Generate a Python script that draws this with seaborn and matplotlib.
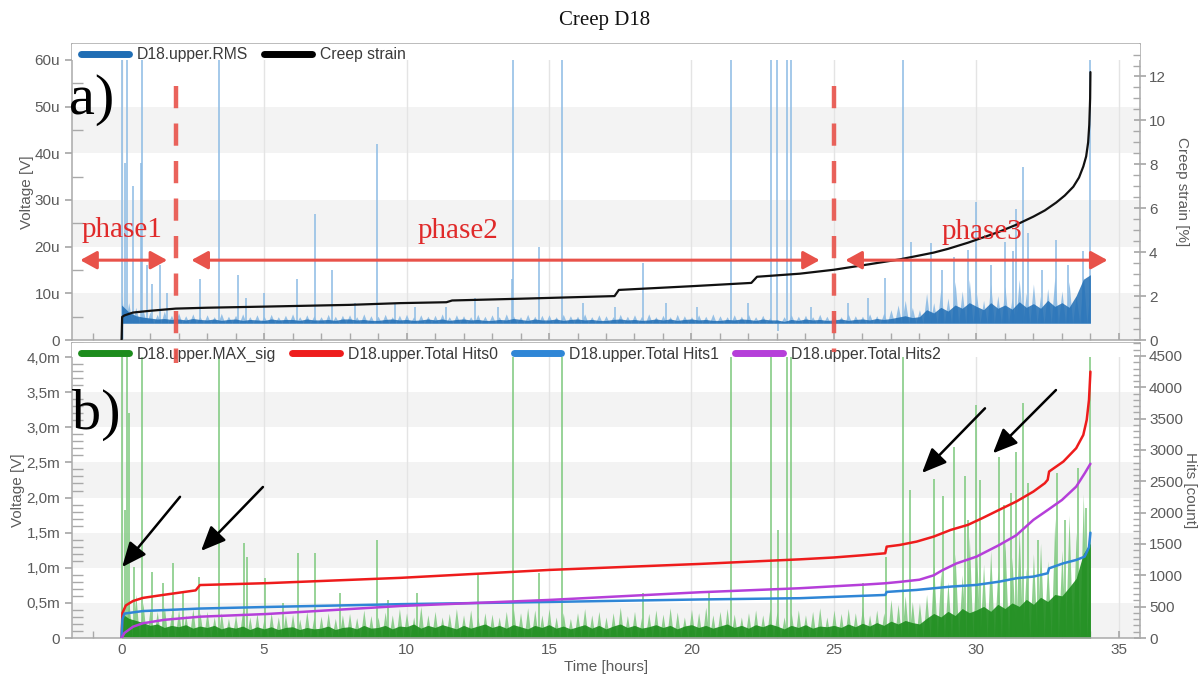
import numpy as np
import pandas as pd
import matplotlib
matplotlib.use("Agg")
import matplotlib.pyplot as plt
import seaborn as sns
from matplotlib.lines import Line2D
from matplotlib.patches import Rectangle, FancyArrowPatch
from matplotlib.ticker import MultipleLocator, FuncFormatter
import matplotlib.transforms as mtransforms

# ---------------------------------------------------------------- data
# regular time grid (hours) on which the dense AE envelopes are sampled
GRID_STEP = 0.25
grid_t = np.arange(0.0, 34.0 + GRID_STEP / 2, GRID_STEP)

# creep strain [%]
creep_t = [0.0, 0.02, 0.1, 0.4, 1.0, 1.9, 3.0, 5.0, 8.0, 9.8, 11.4, 11.6, 14.0,
           17.3, 17.45, 20.0, 22.1, 22.3, 23.8, 25.0, 26.0, 27.3, 28.0, 28.5, 29.0,
           29.7, 30.3, 30.8, 31.4, 32.0, 32.4, 32.8, 33.1, 33.4, 33.6, 33.75, 33.85,
           33.92, 33.96, 33.99, 34.0]
creep_pct = [0.0, 1.05, 1.12, 1.25, 1.33, 1.43, 1.47, 1.52, 1.60, 1.68, 1.72, 1.80, 1.88,
             2.00, 2.28, 2.45, 2.60, 2.88, 3.02, 3.20, 3.40, 3.67, 3.85, 3.98, 4.15,
             4.43, 4.70, 4.93, 5.25, 5.62, 5.90, 6.26, 6.58, 6.98, 7.40, 7.90, 8.36,
             9.00, 9.80, 11.0, 12.2]

# RMS floor level and envelopes [uV]
rms_floor = 3.6
rms_dense = [
    7.5, 6.0, 5.2, 4.9,   4.7, 4.5, 4.6, 4.4,   4.5, 4.3, 4.6, 4.4,   4.3, 4.5, 4.2, 4.4,
    4.5, 4.2, 4.4, 4.3,   4.2, 4.5, 4.3, 4.4,   4.4, 4.2, 4.5, 4.3,   4.3, 4.4, 4.2, 4.5,
    4.5, 4.3, 4.4, 4.2,   4.2, 4.4, 4.5, 4.3,   4.4, 4.2, 4.3, 4.5,   4.3, 4.5, 4.2, 4.4,
    4.5, 4.3, 4.4, 4.2,   4.2, 4.4, 4.3, 4.6,   4.4, 4.2, 4.5, 4.3,   4.3, 4.5, 4.2, 4.4,
    4.5, 4.3, 4.4, 4.2,   4.2, 4.4, 4.5, 4.3,   4.4, 4.2, 4.3, 4.5,   4.3, 4.5, 4.2, 4.4,
    4.5, 4.3, 4.4, 4.2,   4.2, 4.4, 4.3, 4.5,   4.4, 4.2, 4.5, 4.3,   4.3, 4.0, 4.4, 4.2,
    4.5, 4.3, 4.4, 4.2,   4.3, 4.5, 4.2, 4.4,   4.5, 4.3, 4.6, 4.4,   4.6, 4.9, 5.2, 4.8,
    5.0, 6.5, 5.8, 7.0,   6.2, 7.5, 6.8, 8.0,   7.2, 6.5, 8.0, 6.8,   7.5, 6.6, 8.2, 7.0,
    7.8, 6.8, 8.5, 7.2,   8.0, 7.0, 9.5, 13.0,
    14.0]
rms_tall = [
    9.5, 8.0, 7.0, 6.5,   6.0, 5.5, 6.2, 5.3,   5.8, 5.2, 5.6, 5.0,   5.4, 5.0, 5.7, 5.1,
    5.3, 5.6, 5.0, 5.4,   5.1, 5.5, 5.0, 5.3,   5.6, 5.0, 5.4, 5.2,   5.0, 5.5, 5.1, 5.3,
    5.4, 5.0, 5.6, 5.2,   5.1, 5.5, 5.0, 5.3,   5.5, 5.0, 5.4, 5.1,   5.3, 5.6, 5.0, 5.4,
    5.2, 5.0, 5.5, 5.1,   5.4, 5.0, 5.6, 5.2,   5.0, 5.5, 5.1, 5.3,   5.4, 5.0, 5.5, 5.2,
    5.1, 5.6, 5.0, 5.4,   5.2, 5.0, 5.5, 5.1,   5.4, 5.1, 5.6, 5.0,   5.3, 5.0, 5.5, 5.2,
    5.0, 5.4, 5.1, 5.6,   5.2, 5.0, 5.4, 5.1,   5.5, 5.0, 5.3, 4.8,   4.5, 5.0, 5.4, 5.1,
    5.3, 5.0, 5.5, 5.1,   5.4, 5.0, 5.6, 5.2,   5.1, 5.6, 5.2, 5.8,   6.5, 7.5, 8.5, 7.0,
    6.5, 10.0, 8.0, 11.0, 9.0, 12.5, 10.5, 13.0, 10.0, 8.5, 12.0, 9.5, 11.5, 9.0, 13.0, 10.0,
    12.0, 9.5, 11.0, 13.5, 10.5, 12.5, 9.5, 14.0,
    12.0]

# isolated RMS hits [h], [uV]
rms_spike_t = [0.03, 0.12, 0.20, 0.40, 0.68, 0.72, 0.90, 1.05, 1.35, 1.60, 2.75, 3.42,
               4.10, 4.35, 5.00, 6.15, 6.80, 7.40, 8.20, 8.95, 9.60, 10.30, 11.40, 12.40,
               13.20, 13.70, 13.75, 14.65, 15.45, 16.20, 17.30, 18.30, 19.10, 20.20, 21.40,
               22.00, 22.80, 23.00, 23.05, 23.34, 23.50, 24.20, 25.50, 26.20, 26.80, 27.41,
               27.70, 28.40, 28.80, 29.20, 29.70, 30.00, 30.50, 31.00, 31.30, 31.40, 31.62,
               31.80, 32.30, 32.80, 33.20, 33.75, 33.98]
rms_spike_v = [65, 38, 65, 33, 38, 65, 16, 12, 16, 10, 13, 65,
               14, 9, 10, 13, 27, 15, 8, 42, 8, 7, 7, 9,
               7, 13, 65, 20, 65, 8, 7, 16.5, 8, 7, 65,
               8, 65, 65, 2.0, 65, 65, 7, 8, 9, 13.3, 65,
               21, 20.8, 15, 17.8, 19.3, 29.5, 16, 21, 19, 28, 37,
               23, 15, 21.4, 16, 19, 65]

# MAX_sig envelopes [mV]
sig_dense = [
    0.35, 0.28, 0.25, 0.22,  0.18, 0.20, 0.15, 0.18,  0.16, 0.19, 0.14, 0.17,  0.15, 0.18, 0.13, 0.16,
    0.14, 0.17, 0.12, 0.16,  0.13, 0.16, 0.12, 0.15,  0.16, 0.12, 0.15, 0.13,  0.14, 0.17, 0.12, 0.15,
    0.16, 0.13, 0.18, 0.14,  0.15, 0.18, 0.13, 0.17,  0.16, 0.20, 0.14, 0.18,  0.15, 0.19, 0.16, 0.13,
    0.18, 0.14, 0.17, 0.20,  0.15, 0.18, 0.14, 0.19,  0.16, 0.13, 0.18, 0.15,  0.19, 0.14, 0.17, 0.13,
    0.16, 0.19, 0.14, 0.18,  0.13, 0.17, 0.20, 0.15,  0.18, 0.14, 0.16, 0.19,  0.15, 0.18, 0.13, 0.17,
    0.19, 0.15, 0.18, 0.14,  0.17, 0.20, 0.15, 0.18,  0.14, 0.19, 0.16, 0.20,  0.17, 0.13, 0.18, 0.15,
    0.19, 0.14, 0.17, 0.16,  0.18, 0.15, 0.20, 0.16,  0.21, 0.17, 0.22, 0.18,  0.24, 0.20, 0.25, 0.22,
    0.20, 0.28, 0.35, 0.30,  0.38, 0.32, 0.42, 0.36,  0.40, 0.45, 0.38, 0.48,  0.42, 0.50, 0.45, 0.55,
    0.48, 0.58, 0.52, 0.62,  0.60, 0.72, 0.85, 1.20,
    1.35]
sig_tall = [
    0.60, 0.55, 0.62, 0.50,  0.42, 0.38, 0.45, 0.35,  0.40, 0.33, 0.42, 0.36,  0.38, 0.30, 0.36, 0.28,
    0.33, 0.40, 0.30, 0.35,  0.28, 0.36, 0.30, 0.33,  0.34, 0.27, 0.38, 0.30,  0.31, 0.36, 0.28, 0.33,
    0.35, 0.29, 0.40, 0.32,  0.30, 0.37, 0.33, 0.42,  0.36, 0.30, 0.45, 0.33,  0.38, 0.30, 0.35, 0.42,
    0.33, 0.40, 0.30, 0.36,  0.34, 0.30, 0.38, 0.42,  0.36, 0.43, 0.40, 0.33,  0.42, 0.30, 0.36, 0.28,
    0.36, 0.42, 0.33, 0.38,  0.30, 0.36, 0.44, 0.32,  0.38, 0.30, 0.35, 0.40,  0.34, 0.43, 0.37, 0.30,
    0.41, 0.36, 0.44, 0.33,  0.38, 0.42, 0.34, 0.30,  0.36, 0.40, 0.33, 0.42,  0.38, 0.30, 0.36, 0.40,
    0.33, 0.38, 0.43, 0.30,  0.40, 0.35, 0.42, 0.36,  0.45, 0.33, 0.40, 0.36,  0.55, 0.48, 0.60, 0.52,
    0.50, 0.62, 1.05, 0.95,  0.80, 1.20, 0.90, 1.45,  1.30, 1.05, 1.25, 0.95,  1.40, 1.15, 1.55, 1.00,
    1.20, 1.35, 1.10, 1.70,  1.25, 1.75, 1.50, 2.05,
    1.40]

# isolated MAX_sig hits [h], [mV]
sig_spike_t = [0.03, 0.12, 0.20, 0.26, 0.42, 0.72, 1.06, 1.47, 1.80, 2.17, 2.72, 3.42,
               4.30, 4.40, 5.03, 5.68, 6.18, 6.79, 7.67, 8.95, 9.36, 10.36, 12.52, 13.75,
               14.66, 15.45, 18.30, 20.63, 21.40, 22.80, 23.02, 23.34, 23.50, 26.03, 26.83,
               27.41, 27.67, 28.52, 28.81, 29.21, 29.60, 29.71, 30.00, 30.12, 30.80, 30.96,
               31.20, 31.39, 31.62, 31.82, 32.17, 32.81, 33.10, 33.57, 33.84, 33.98]
sig_spike_v = [4.5, 1.82, 4.5, 3.2, 1.01, 4.5, 0.94, 0.78, 1.07, 0.64, 0.87, 4.5,
               1.35, 1.16, 0.85, 0.50, 1.21, 1.21, 0.64, 1.40, 0.54, 0.64, 0.92, 4.5,
               0.92, 4.5, 0.64, 0.64, 4.5, 4.5, 1.54, 4.5, 4.5, 0.78, 1.16,
               4.5, 2.11, 2.26, 2.02, 2.72, 2.30, 1.68, 3.32, 2.25, 2.58, 1.89,
               2.06, 2.65, 3.35, 2.20, 1.40, 2.35, 1.68, 2.42, 1.85, 4.5]

# cumulative hit counts per channel
hits0_t = [0.0, 0.03, 0.15, 0.4, 0.75, 1.5, 2.6, 2.75, 5.1, 9.8, 15.0, 20.3, 23.8, 25.0,
           26.0, 26.8, 26.85, 27.3, 27.9, 28.5, 29.1, 29.7, 30.2, 30.8, 31.4, 32.0, 32.4,
           32.5, 32.55, 33.05, 33.5, 33.75, 33.87, 33.95, 34.0]
hits0 = [0, 400, 520, 590, 640, 690, 760, 845, 875, 960, 1086, 1182, 1255, 1285,
         1320, 1352, 1458, 1484, 1538, 1618, 1725, 1805, 1911, 2045, 2178, 2337, 2470,
         2524, 2656, 2815, 3028, 3240, 3480, 3800, 4250]
hits1_t = [0.0, 0.03, 0.1, 0.75, 2.75, 5.1, 9.8, 15.0, 20.3, 23.8, 26.8, 26.85, 27.9,
           29.1, 30.0, 30.8, 31.4, 32.0, 32.5, 32.55, 33.05, 33.5, 33.8, 33.95, 34.0]
hits1 = [0, 300, 390, 430, 470, 495, 540, 575, 615, 635, 687, 735, 767,
         820, 847, 899, 953, 980, 1033, 1112, 1192, 1245, 1298, 1450, 1680]
hits2_t = [0.0, 0.1, 0.4, 0.75, 1.5, 2.75, 5.1, 9.8, 15.0, 20.3, 23.8, 25.0, 26.0, 26.8,
           27.3, 28.0, 28.5, 28.8, 29.3, 30.0, 30.8, 31.4, 32.0, 32.5, 33.0, 33.5, 33.8, 34.0]
hits2 = [0, 80, 180, 235, 290, 340, 383, 511, 607, 730, 794, 825, 850, 873,
         895, 930, 1000, 1080, 1190, 1298, 1484, 1640, 1885, 2042, 2202, 2415, 2628, 2780]

# phase boundaries [h] and labels
phase_bounds = [1.9, 25.0]
phase_labels = ["phase1", "phase2", "phase3"]

# ---------------------------------------------------------------- style
sns.set_theme(style="white")
plt.rcParams["font.family"] = ["Liberation Sans", "DejaVu Sans"]
plt.rcParams["lines.scale_dashes"] = False

W, H = 1203, 682
fig = plt.figure(figsize=(W / 100, H / 100), dpi=100)


def fx(px):
    return px / W


def fy(py):
    return 1 - py / H


GRAY_TXT = "#5b5b5b"
SPINE = "#a9a9a9"
BAND = "#f3f3f3"
VGRID = "#e4e4e4"
RMS_DARK = "#1f6db4"
RMS_LIGHT = "#8cbbe4"
SIG_DARK = "#1c8c1c"
SIG_LIGHT = "#7cc87c"
RED = "#ee1c1c"
BLUE = "#2f86d6"
PURPLE = "#b53fd9"
ANNO_RED = "#e8524a"

XLIM = (-1.74, 35.74)
AX_LEFT, AX_RIGHT = 72, 1140

ax1 = fig.add_axes([fx(AX_LEFT), fy(340), fx(AX_RIGHT - AX_LEFT), (340 - 44) / H])
ax2 = fig.add_axes([fx(AX_LEFT), fy(638), fx(AX_RIGHT - AX_LEFT), (638 - 343) / H])
ax1r = ax1.twinx()
ax2r = ax2.twinx()


def ax_x(px):
    """Horizontal pixel position expressed in axes fraction."""
    return (px - AX_LEFT) / (AX_RIGHT - AX_LEFT)


def sawtooth(t, v, floor):
    """Vertex list that draws every sample as a narrow peak rising from the floor."""
    t = np.asarray(t, float)
    v = np.asarray(v, float)
    half = (t[1] - t[0]) / 2
    xs = np.empty(2 * len(t) - 1)
    ys = np.empty(2 * len(t) - 1)
    xs[0::2], ys[0::2] = t, v
    xs[1::2], ys[1::2] = t[:-1] + half, floor
    return xs, ys


def base_axes(ax, band_edges, top_level):
    ax.set_xlim(*XLIM)
    for lo, hi in band_edges:
        ax.axhspan(lo, hi, color=BAND, zorder=0, lw=0)
    for xv in range(0, 36, 5):
        ax.axvline(xv, color=VGRID, lw=1.0, zorder=0.5)
    # legend strip above the data area
    ax.add_patch(Rectangle((0, top_level), 1, 100, transform=ax.get_yaxis_transform(),
                           facecolor="white", edgecolor="none", zorder=4))
    for s in ax.spines.values():
        s.set_color(SPINE)
        s.set_linewidth(1.1)
    ax.xaxis.set_major_locator(MultipleLocator(5))
    ax.xaxis.set_minor_locator(MultipleLocator(1))
    ax.tick_params(axis="x", which="both", direction="in", length=5, color=SPINE,
                   labelcolor=GRAY_TXT, labelsize=11, bottom=True)
    ax.tick_params(axis="y", which="major", direction="out", length=5, color=SPINE,
                   labelcolor=GRAY_TXT, labelsize=11, left=True)
    ax.tick_params(axis="y", which="minor", direction="in", length=8, color=SPINE, left=True)


def right_axes(ax):
    for s in ax.spines.values():
        s.set_visible(False)
    ax.tick_params(axis="y", which="major", direction="inout", length=9, color=SPINE,
                   labelcolor=GRAY_TXT, labelsize=11, right=True, pad=2)
    ax.tick_params(axis="y", which="minor", direction="in", length=5, color=SPINE, right=True)
    ax.grid(False)


LEG_KW = dict(loc="upper left", bbox_to_anchor=(0.0, 1.02), frameon=False,
              fontsize=11.3, handlelength=3.05, handletextpad=0.5, columnspacing=1.0,
              borderaxespad=0.2, labelcolor="#3a3a3a")

# ---------------------------------------------------------------- panel a
ax1.set_ylim(0, 63.4)
base_axes(ax1, [(0, 10), (20, 30), (40, 50)], 60)
ax1.yaxis.set_major_locator(MultipleLocator(10))
ax1.yaxis.set_minor_locator(MultipleLocator(5))
ax1.yaxis.set_major_formatter(FuncFormatter(lambda v, p: "0" if v == 0 else f"{v:.0f}u"))
ax1.tick_params(axis="x", labelbottom=False)

xs, ys = sawtooth(grid_t, rms_tall, rms_floor)
ax1.fill_between(xs, rms_floor, ys, color=RMS_LIGHT, lw=0, alpha=0.9, zorder=2)
ax1.fill_between(grid_t, rms_floor, rms_dense, color=RMS_DARK, lw=0, alpha=0.85, zorder=2.2)
ax1.vlines(rms_spike_t, rms_floor, rms_spike_v, color=RMS_LIGHT, lw=1.1, zorder=2.1)
ax1.plot([0, 0], [0, rms_floor], color=RMS_DARK, lw=1.0, zorder=2.2)

ax1r.set_ylim(0, 13.48)
right_axes(ax1r)
ax1r.yaxis.set_major_locator(MultipleLocator(2))
ax1r.yaxis.set_minor_locator(MultipleLocator(0.5))
sns.lineplot(x=creep_t, y=creep_pct, ax=ax1r, color="#111111", lw=1.6, sort=False,
             estimator=None, zorder=3)

ax1.set_ylabel("Voltage [V]", color=GRAY_TXT, fontsize=11, va="center")
ax1.yaxis.set_label_coords(ax_x(27), 0.5)
ax1r.set_ylabel("Creep strain [%]", color=GRAY_TXT, fontsize=11, rotation=270, va="center")
ax1r.yaxis.set_label_coords(ax_x(1182), 0.5)
ax1.set_xlabel("")

leg1 = ax1r.legend(handles=[Line2D([], [], color=RMS_DARK, lw=5),
                            Line2D([], [], color="black", lw=5)],
                   labels=["D18.upper.RMS", "Creep strain"], ncol=2, **LEG_KW)
leg1.set_zorder(10)

# ---------------------------------------------------------------- panel b
ax2.set_ylim(0, 4.2)
base_axes(ax2, [(0, 0.5), (1.0, 1.5), (2.0, 2.5), (3.0, 3.5)], 4.0)
ax2.yaxis.set_major_locator(MultipleLocator(0.5))
ax2.yaxis.set_minor_locator(MultipleLocator(0.1))
ax2.yaxis.set_major_formatter(
    FuncFormatter(lambda v, p: "0" if abs(v) < 1e-9 else f"{v:.1f}m".replace(".", ",")))

xs, ys = sawtooth(grid_t, sig_tall, 0.0)
ax2.fill_between(xs, 0, ys, color=SIG_LIGHT, lw=0, alpha=0.85, zorder=2)
ax2.fill_between(grid_t, 0, sig_dense, color=SIG_DARK, lw=0, alpha=0.9, zorder=2.2)
ax2.vlines(sig_spike_t, 0, sig_spike_v, color=SIG_LIGHT, lw=1.1, zorder=2.1)

ax2r.set_ylim(0, 4707)
right_axes(ax2r)
ax2r.yaxis.set_major_locator(MultipleLocator(500))
ax2r.yaxis.set_minor_locator(MultipleLocator(100))
for tt, vv, cc in [(hits0_t, hits0, RED), (hits1_t, hits1, BLUE), (hits2_t, hits2, PURPLE)]:
    sns.lineplot(x=tt, y=vv, ax=ax2r, color=cc, lw=1.8, sort=False, estimator=None, zorder=3)

ax2.set_ylabel("Voltage [V]", color=GRAY_TXT, fontsize=11, va="center")
ax2.yaxis.set_label_coords(ax_x(18), 0.5)
ax2r.set_ylabel("Hits [count]", color=GRAY_TXT, fontsize=11, rotation=270, va="center")
ax2r.yaxis.set_label_coords(ax_x(1190), 0.5)
ax2.set_xlabel("Time [hours]", color=GRAY_TXT, fontsize=11, labelpad=2)

leg2 = ax2r.legend(handles=[Line2D([], [], color=c, lw=5)
                            for c in (SIG_DARK, RED, BLUE, PURPLE)],
                   labels=["D18.upper.MAX_sig", "D18.upper.Total Hits0",
                           "D18.upper.Total Hits1", "D18.upper.Total Hits2"],
                   ncol=4, **LEG_KW)
leg2.set_zorder(10)

# ---------------------------------------------------------------- annotations
fig.text(fx(605), fy(20), "Creep D18", ha="center", va="center",
         family="Liberation Serif", fontsize=15, color="#111111")
fig.text(fx(92), fy(100), "a)", ha="center", va="center",
         family="Liberation Serif", fontsize=42, color="black", zorder=20)
fig.text(fx(96), fy(415), "b)", ha="center", va="center",
         family="Liberation Serif", fontsize=42, color="black", zorder=20)

# phase boundaries spanning both panels
blend = mtransforms.blended_transform_factory(ax1.transData, fig.transFigure)
for xb, ybot in zip(phase_bounds, [363, 352]):
    ln = Line2D([xb, xb], [fy(86), fy(ybot)], transform=blend, color=ANNO_RED,
                lw=3.2, alpha=0.9, zorder=30)
    ln.set_dashes((16, 11))
    fig.add_artist(ln)

# double arrows marking the phases
arrow_y = 17.1
spans = [(-1.45, 1.6), (2.45, 24.5), (25.4, 34.6)]
for (a, b) in spans:
    arr = FancyArrowPatch((a, arrow_y), (b, arrow_y), transform=ax1.transData,
                          arrowstyle="<|-|>,head_length=10,head_width=5.5",
                          color=ANNO_RED, lw=2.2, mutation_scale=1, zorder=30,
                          shrinkA=0, shrinkB=0, clip_on=False)
    fig.add_artist(arr)
label_pos = [(0.02, 23.6), (11.8, 23.3), (30.2, 23.2)]
for (xl, yl), txt in zip(label_pos, phase_labels):
    ax1r.text(xl, yl * 13.48 / 63.4, txt, ha="center", va="center", family="Liberation Serif",
              fontsize=21, color="#e02a2a", zorder=30)

# black arrows pointing at the activity bursts
arrows_b = [((2.05, 2.01), (0.02, 1.01)), ((4.96, 2.15), (2.79, 1.24)),
            ((30.3, 3.27), (28.09, 2.35)), ((32.79, 3.53), (30.58, 2.63))]
for tail, tip in arrows_b:
    arr = FancyArrowPatch(tail, tip, transform=ax2.transData,
                          arrowstyle="-|>,head_length=15,head_width=6.5",
                          color="black", lw=1.8, mutation_scale=1, zorder=30,
                          shrinkA=0, shrinkB=0)
    fig.add_artist(arr)

fig.savefig("out.png", dpi=100)
